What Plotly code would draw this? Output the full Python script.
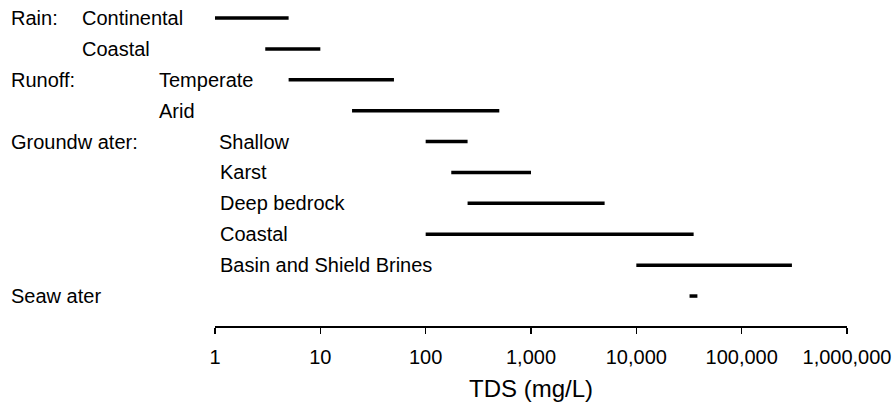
import plotly.graph_objects as go

# ---- data ----
group_labels = ["Rain:", "", "Runoff:", "", "Groundw ater:", "", "", "", "", "Seaw ater"]
item_labels = ["Continental", "Coastal", "Temperate", "Arid", "Shallow", "Karst",
               "Deep bedrock", "Coastal", "Basin and Shield Brines", ""]
tds_low = [1, 3, 5, 20, 100, 175, 250, 100, 10000, 32000]
tds_high = [5, 10, 50, 500, 250, 1000, 5000, 35000, 300000, 38000]
tick_values = [1, 10, 100, 1000, 10000, 100000, 1000000]
tick_labels = ["1", "10", "100", "1,000", "10,000", "100,000", "1,000,000"]

# ---- layout constants ----
W, H = 895, 407
L, R, T, B = 215, 48, 0, 81
FONT = "Liberation Sans, Arial, sans-serif"
# indentation (pixels from left edge) of item labels, per group
item_x_px = [80, 80, 157, 157, 217, 218, 218, 218, 218, 0]
group_x_px = 9

xs, ys = [], []
for i, (lo, hi) in enumerate(zip(tds_low, tds_high)):
    xs += [lo, hi, None]
    ys += [i, i, None]

fig = go.Figure()
fig.add_trace(go.Scatter(x=xs, y=ys, mode="lines",
                         line=dict(color="black", width=3.5),
                         hoverinfo="skip", showlegend=False))

plot_w = W - L - R
annotations = []
for i, (g, it) in enumerate(zip(group_labels, item_labels)):
    if g:
        annotations.append(dict(text=g, xref="paper", yref="y",
                                x=(group_x_px - L) / plot_w, y=i,
                                xanchor="left", yanchor="middle", showarrow=False,
                                font=dict(family=FONT, size=20, color="black")))
    if it:
        annotations.append(dict(text=it, xref="paper", yref="y",
                                x=(item_x_px[i] - L) / plot_w, y=i,
                                xanchor="left", yanchor="middle", showarrow=False,
                                font=dict(family=FONT, size=20, color="black")))

fig.update_layout(
    width=W, height=H,
    margin=dict(l=L, r=R, t=T, b=B),
    plot_bgcolor="white", paper_bgcolor="white",
    font=dict(family=FONT, size=20, color="black"),
    annotations=annotations,
    hovermode=False,
    xaxis=dict(type="log", range=[0, 6],
               tickvals=tick_values, ticktext=tick_labels,
               showgrid=False, zeroline=False,
               showline=True, linecolor="black", linewidth=1.5,
               ticks="outside", ticklen=6, tickwidth=1.5, tickcolor="black",
               ticklabelstandoff=6,
               tickfont=dict(family=FONT, size=20, color="black"),
               title=dict(text="TDS (mg/L)", standoff=13,
                          font=dict(family=FONT, size=24, color="black"))),
    yaxis=dict(range=[9.970, -0.583], visible=False, showgrid=False, zeroline=False),
)

fig.write_html("out.html",
               config={"displayModeBar": False, "staticPlot": True},
               post_script="document.body.style.margin='0';document.body.style.overflow='hidden';")
